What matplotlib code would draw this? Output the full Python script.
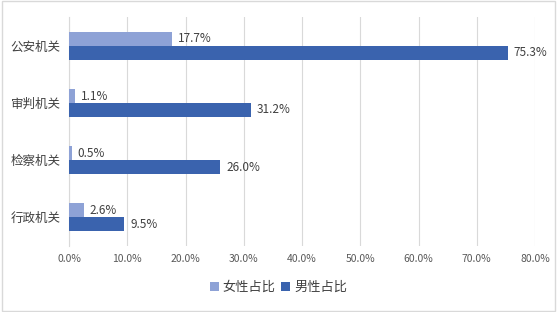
import matplotlib
matplotlib.use("Agg")
import matplotlib.pyplot as plt
import numpy as np

plt.rcParams['font.family'] = ['Noto Sans CJK SC', 'DejaVu Sans']

categories = ['公安机关', '审判机关', '检察机关', '行政机关']
female = [17.7, 1.1, 0.5, 2.6]
male = [75.3, 31.2, 26.0, 9.5]
series_names = ['女性占比', '男性占比']
xticks = [0, 10, 20, 30, 40, 50, 60, 70, 80]

c_f = '#8EA2D6'
c_m = '#3A63AE'
txt = '#404040'

fig = plt.figure(figsize=(5.57, 3.12), dpi=100)
ax = fig.add_axes([0.1239, 0.213, 0.8366, 0.731])

y = np.arange(len(categories))
h = 0.245
b1 = ax.barh(y - h / 2, female, height=h, color=c_f, label=series_names[0], zorder=3)
b2 = ax.barh(y + h / 2, male, height=h, color=c_m, label=series_names[1], zorder=3)

for bars, vals in ((b1, female), (b2, male)):
    for r, v in zip(bars, vals):
        ax.text(r.get_width() + 1.0, r.get_y() + r.get_height() / 2, f'{v:.1f}%',
                va='center', ha='left', fontsize=8.5, color=txt)

ax.set_ylim(len(categories) - 0.5, -0.5)
ax.set_xlim(0, 80)
ax.set_xticks(xticks)
ax.set_xticklabels([f'{t:.1f}%' for t in xticks], fontsize=7.5, color='#595959')
ax.set_yticks(y)
ax.set_yticklabels(categories, fontsize=9, color=txt)
ax.tick_params(axis='both', length=0, pad=6)
ax.tick_params(axis='x', pad=6)
ax.grid(axis='x', color='#D9D9D9', linewidth=0.8, zorder=0)
for s in ['top', 'right', 'bottom']:
    ax.spines[s].set_visible(False)
ax.spines['left'].set_color('#D9D9D9')
ax.spines['left'].set_linewidth(0.8)

leg = fig.legend(handles=[b1, b2], loc='center', bbox_to_anchor=(0.5, 0.078), ncol=2,
                 frameon=False, fontsize=9.5, handlelength=0.7, handleheight=0.7,
                 handletextpad=0.3, columnspacing=0.4)
for t in leg.get_texts():
    t.set_color(txt)

border = plt.Rectangle((0.003, 0.003), 0.994, 0.994, transform=fig.transFigure,
                       fill=False, edgecolor='#D9D9D9', linewidth=1)
fig.patches.append(border)

fig.savefig('out.png', dpi=100)
